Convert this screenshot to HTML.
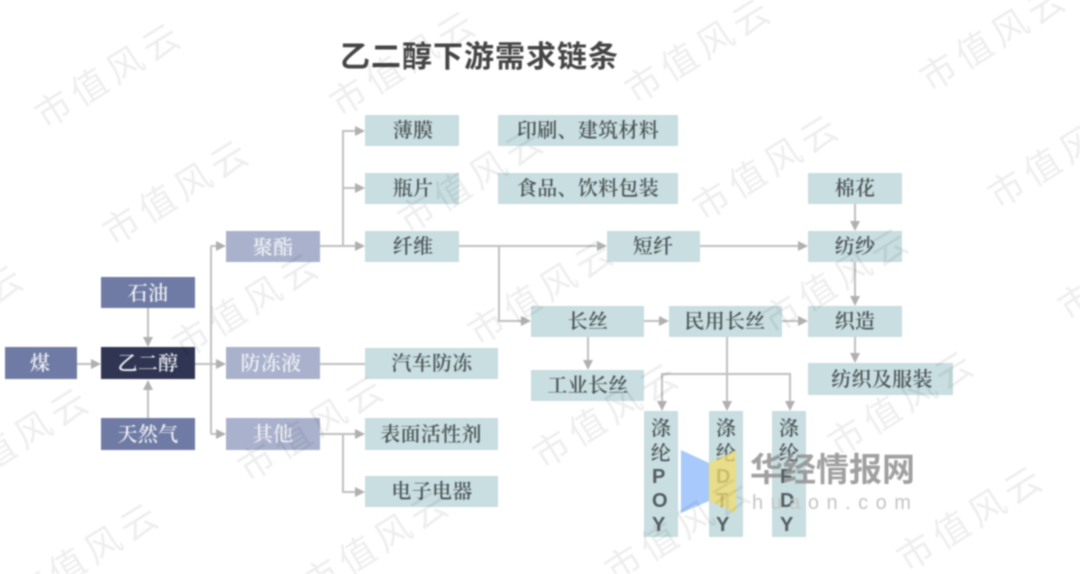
<!DOCTYPE html>
<html lang="zh">
<head>
<meta charset="utf-8">
<style>
html,body{margin:0;padding:0;background:#fff;width:1080px;height:574px;overflow:hidden}
svg{display:block;filter:blur(.8px)}
#wrap{position:relative;width:1080px;height:574px;overflow:hidden}
#wm{position:absolute;left:0;top:0;width:1080px;height:574px;overflow:hidden;contain:paint;pointer-events:none}
.b{font-family:"Liberation Serif","Noto Serif CJK SC",serif;font-size:20px;text-anchor:middle;font-weight:600;letter-spacing:.3px}
.t{fill:#4d5458}.w{fill:#eef0f5}
.v{font-family:"Liberation Sans","Noto Serif CJK SC",sans-serif;font-size:20px;font-weight:700;fill:#555c60}
.l{stroke:#c0c0c0;stroke-width:2;fill:none}
.a{fill:#b0b0b0}
.tl{fill:#c8dee0}.m{fill:#6f7ba4}.p{fill:#a9b1cc}.d{fill:#2f3552}
</style>
</head>
<body>
<div id="wrap">
<svg width="1080" height="574" viewBox="0 0 1080 574" xmlns="http://www.w3.org/2000/svg">

<text x="340" y="67" font-family="'Liberation Sans','Noto Sans CJK SC',sans-serif" font-size="30" font-weight="700" letter-spacing="1" fill="#454545">乙二醇下游需求链条</text>

<!-- connectors -->
<g class="l">
<path d="M77 364H92M148 308V338M148 427V389M195 364H217M211 246V434M211 246H217M211 434H217"/>
<path d="M320 246H356M343 246V131H356M343 188H356"/>
<path d="M320 364H365"/>
<path d="M320 434H356M343 434V492H356"/>
<path d="M459 246H598M499 246V321H522"/>
<path d="M700 246H799M855 204V222M855 262V297M855 337V354"/>
<path d="M644 321H660M782 321H799M588 337V361"/>
<path d="M727 337V402M662 402V374H790V402"/>
</g>
<g class="a">
<path d="M101 364l-10-5v10zM226 246l-10-5v10zM226 364l-10-5v10zM226 434l-10-5v10z"/>
<path d="M365 131l-10-5v10zM365 188l-10-5v10zM365 246l-10-5v10zM365 434l-10-5v10zM365 492l-10-5v10z"/>
<path d="M607 246l-10-5v10zM808 246l-10-5v10zM531 321l-10-5v10zM669 321l-10-5v10zM808 321l-10-5v10z"/>
<path d="M148 347l-5-10h10zM148 380l-5 10h10zM855 231l-5-10h10zM855 306l-5-10h10zM855 363l-5-10h10zM588 370l-5-10h10z"/>
<path d="M662 411l-5-10h10zM727 411l-5-10h10zM790 411l-5-10h10z"/>
</g>

<!-- boxes -->
<rect class="m" x="5" y="347" width="72" height="32"/>
<rect class="d" x="101" y="347" width="94" height="32"/>
<rect class="m" x="101" y="277" width="94" height="31"/>
<rect class="m" x="101" y="418" width="94" height="32"/>
<rect class="p" x="226" y="231" width="94" height="31"/>
<rect class="p" x="226" y="347" width="94" height="32"/>
<rect class="p" x="226" y="418" width="94" height="32"/>
<rect class="tl" x="365" y="115" width="94" height="31"/>
<rect class="tl" x="365" y="173" width="94" height="31"/>
<rect class="tl" x="365" y="231" width="94" height="31"/>
<rect class="tl" x="498" y="115" width="180" height="31"/>
<rect class="tl" x="498" y="173" width="180" height="31"/>
<rect class="tl" x="607" y="231" width="93" height="31"/>
<rect class="tl" x="808" y="173" width="94" height="31"/>
<rect class="tl" x="808" y="231" width="94" height="31"/>
<rect class="tl" x="531" y="306" width="113" height="31"/>
<rect class="tl" x="669" y="306" width="113" height="31"/>
<rect class="tl" x="808" y="306" width="94" height="31"/>
<rect class="tl" x="531" y="370" width="113" height="31"/>
<rect class="tl" x="808" y="363" width="145" height="32"/>
<rect class="tl" x="365" y="348" width="133" height="31"/>
<rect class="tl" x="365" y="418" width="133" height="32"/>
<rect class="tl" x="365" y="476" width="133" height="31"/>
<rect class="tl" x="644" y="411" width="34" height="126"/>
<rect class="tl" x="709" y="411" width="34" height="126"/>
<rect class="tl" x="772" y="411" width="34" height="126"/>

<!-- labels -->
<g class="b w">
<text x="40" y="370">煤</text>
<text x="148" y="370">乙二醇</text>
<text x="148" y="300">石油</text>
<text x="148" y="441">天然气</text>
<text x="273" y="254">聚酯</text>
<text x="271" y="370">防冻液</text>
<text x="273" y="441">其他</text>
</g>
<g class="b t">
<text x="413" y="137">薄膜</text>
<text x="413" y="195">瓶片</text>
<text x="413" y="253">纤维</text>
<text x="588" y="137">印刷、建筑材料</text>
<text x="588" y="195">食品、饮料包装</text>
<text x="653" y="253">短纤</text>
<text x="855" y="195">棉花</text>
<text x="855" y="253">纺纱</text>
<text x="588" y="328">长丝</text>
<text x="725" y="328">民用长丝</text>
<text x="855" y="328">织造</text>
<text x="588" y="392">工业长丝</text>
<text x="882" y="386">纺织及服装</text>
<text x="432" y="370">汽车防冻</text>
<text x="431" y="441">表面活性剂</text>
<text x="432" y="498">电子电器</text>
<text x="661" y="435">涤</text><text x="661" y="460">纶</text>
<text x="726" y="435">涤</text><text x="726" y="460">纶</text>
<text x="789" y="435">涤</text><text x="789" y="460">纶</text>
</g>
<g class="v">
<text x="652" y="483">P</text><text x="652" y="507">O</text><text x="652" y="531">Y</text>
<text x="716" y="483">D</text><text x="716" y="507">T</text><text x="716" y="531">Y</text>
<text x="780" y="483">F</text><text x="780" y="507">D</text><text x="780" y="531">Y</text>
</g>

<!-- logo watermark -->
<polygon points="681,450 709,463 709,501 681,513" fill="#a8c9fb"/>
<polygon points="709,463 736,450 736,513 709,501" fill="#f3dc6e" fill-opacity=".75"/>
<text x="750" y="481" font-family="'Liberation Sans','Noto Sans CJK SC',sans-serif" font-size="33" font-weight="700" fill="#8f8f8f" fill-opacity=".85">华经情报网</text>
<text x="752" y="509" font-family="'Liberation Sans',sans-serif" font-size="20" letter-spacing="7.5" fill="#c4c4c4">huaon.com</text>
</svg>
<div id="wm">
<svg width="1080" height="574" viewBox="0 0 1080 574" xmlns="http://www.w3.org/2000/svg">
<defs>
<text id="w" x="0" y="12" transform="rotate(-32)" font-family="'Noto Sans CJK SC','Liberation Sans',sans-serif" font-size="36" letter-spacing="6" text-anchor="middle" fill="#000" fill-opacity=".065">市值风云</text>
</defs>
<use href="#w" x="110" y="75"/><use href="#w" x="405" y="63"/><use href="#w" x="700" y="50"/><use href="#w" x="995" y="38"/>
<use href="#w" x="178" y="192"/><use href="#w" x="473" y="180"/><use href="#w" x="768" y="167"/><use href="#w" x="1063" y="155"/>
<use href="#w" x="-47" y="317"/><use href="#w" x="248" y="305"/><use href="#w" x="543" y="292"/><use href="#w" x="838" y="280"/><use href="#w" x="1133" y="267"/>
<use href="#w" x="18" y="440"/><use href="#w" x="313" y="428"/><use href="#w" x="608" y="415"/><use href="#w" x="903" y="403"/>
<use href="#w" x="88" y="555"/><use href="#w" x="378" y="543"/><use href="#w" x="680" y="530"/><use href="#w" x="972" y="518"/>
</svg>
</div>
</div>
</body>
</html>
